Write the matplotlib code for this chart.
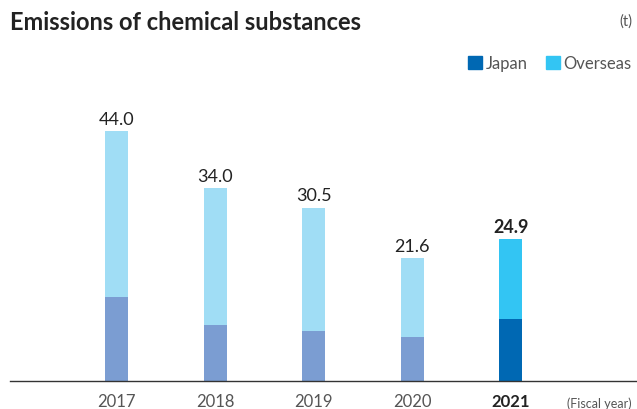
import matplotlib
matplotlib.use("Agg")
import matplotlib.pyplot as plt
from matplotlib.patches import Patch

plt.rcParams["font.family"] = ["Lato", "DejaVu Sans"]

years = ["2017", "2018", "2019", "2020", "2021"]
totals = [44.0, 34.0, 30.5, 21.6, 24.9]
japan = [14.8, 9.9, 8.8, 7.8, 10.9]
overseas = [t - j for t, j in zip(totals, japan)]

JAPAN_PAST = "#7b9dd2"
OVER_PAST = "#a0ddf5"
JAPAN_NOW = "#0068b3"
OVER_NOW = "#33c5f3"
TEXT_DARK = "#222222"
TEXT_GREY = "#555555"

fig = plt.figure(figsize=(6.37, 4.10), dpi=100)
W, H = 637, 410
ax = fig.add_axes([10 / W, 28 / H, 627 / W, 282 / H])

x = list(range(len(years)))
last = len(years) - 1
jc = [JAPAN_NOW if i == last else JAPAN_PAST for i in x]
oc = [OVER_NOW if i == last else OVER_PAST for i in x]

ax.bar(x, japan, width=0.234, color=jc, linewidth=0)
ax.bar(x, overseas, bottom=japan, width=0.234, color=oc, linewidth=0)

for i, t in enumerate(totals):
    ax.annotate(f"{t:.1f}", (i, t), xytext=(0, 3), textcoords="offset points",
                ha="center", va="bottom", fontsize=13, color=TEXT_DARK,
                fontweight="bold" if i == last else "normal")

ax.set_xlim(-1.083, 5.28)
ax.set_ylim(0, 49.6)
ax.set_xticks(x)
ax.set_xticklabels(years, fontsize=12, color=TEXT_GREY)
ax.get_xticklabels()[last].set_fontweight("bold")
ax.get_xticklabels()[last].set_color(TEXT_DARK)
ax.tick_params(axis="x", length=0, pad=9)
ax.set_yticks([])
for s in ["top", "right", "left"]:
    ax.spines[s].set_visible(False)
ax.spines["bottom"].set_color("#333333")
ax.spines["bottom"].set_linewidth(1.0)

fig.text(10 / W, 1 - 22 / H, "Emissions of chemical substances", fontsize=17,
         fontweight="bold", color=TEXT_DARK, va="center", ha="left")
fig.text(632 / W, 1 - 22 / H, "(t)", fontsize=10.5, color=TEXT_GREY, va="center", ha="right")
fig.text(632 / W, 1 - 404 / H, "(Fiscal year)", fontsize=9, color=TEXT_GREY,
         va="center", ha="right")

handles = [Patch(color=JAPAN_NOW, label="Japan"), Patch(color=OVER_NOW, label="Overseas")]
fig.legend(handles=handles, loc="center right", bbox_to_anchor=(638 / W, 1 - 64 / H),
           ncol=2, frameon=False, fontsize=12, handlelength=0.85, handleheight=0.85,
           handletextpad=0.2, columnspacing=1.1, labelcolor=TEXT_GREY, borderaxespad=0)

fig.savefig("out.png", dpi=100)
